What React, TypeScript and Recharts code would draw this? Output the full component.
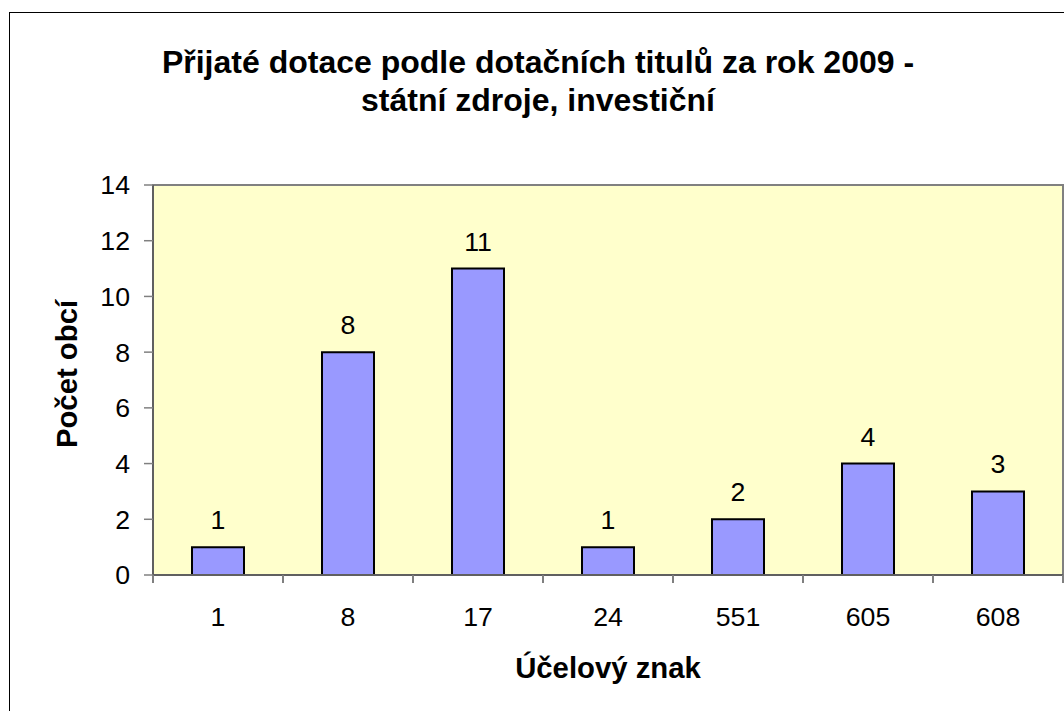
import { BarChart, Bar, XAxis, YAxis, CartesianGrid, ReferenceArea, LabelList } from 'recharts'

const codes = ['1', '8', '17', '24', '551', '605', '608']
const counts = [1, 8, 11, 1, 2, 4, 3]
const yTicks = [0, 2, 4, 6, 8, 10, 12, 14]

const titleLines = ['Přijaté dotace podle dotačních titulů za rok 2009 -', 'státní zdroje, investiční']
const xTitle = 'Účelový znak'
const yTitle = 'Počet obcí'

const data = codes.map((code, i) => ({ code, count: counts[i] }))

const font = '"Liberation Sans", Arial, sans-serif'
const tickFont = 26.7

function CodeTick(props: any) {
  const { x, y, payload, index } = props
  const off = payload.offset ?? 65
  return (
    <g>
      <line x1={x - off} x2={x - off} y1={y} y2={y + 8} stroke="#808080" strokeWidth={2} />
      {index === codes.length - 1 && (
        <line x1={x + off} x2={x + off} y1={y} y2={y + 8} stroke="#808080" strokeWidth={2} />
      )}
      <text x={x} y={y + 42} dy="0.35em" textAnchor="middle" fontSize={tickFont} fill="#000" fontFamily={font}>
        {payload.value}
      </text>
    </g>
  )
}

export default function App() {
  return (
    <div style={{ position: 'absolute', left: 0, top: 0, width: 1064, height: 711, overflow: 'hidden', background: '#fff', fontFamily: font }}>
      <div style={{ position: 'absolute', left: 9, top: 12, width: 1100, height: 800, border: '1px solid #000', boxSizing: 'border-box' }} />
      <div style={{ position: 'absolute', left: 9, width: 1058, top: 43, textAlign: 'center', fontWeight: 'bold', fontSize: 32, lineHeight: '38px', color: '#000' }}>
        {titleLines.map((t) => (
          <div key={t}>{t}</div>
        ))}
      </div>
      <BarChart
        width={1064}
        height={711}
        data={data}
        margin={{ top: 185, right: 1, bottom: 106, left: 93 }}
        barSize={52}
        style={{ position: 'absolute', left: 0, top: 0 }}
      >
        <CartesianGrid horizontal={false} vertical={false} fill="#FFFFCC" stroke="none" />
        <ReferenceArea y1={0} y2={14} fill="none" stroke="#808080" strokeWidth={2} ifOverflow="visible" />
        <XAxis
          dataKey="code"
          height={30}
          tickLine={false}
          tickSize={0}
          tickMargin={0}
          axisLine={{ stroke: '#606060', strokeWidth: 2 }}
          tick={<CodeTick />}
          interval={0}
        />
        <YAxis
          width={60}
          domain={[0, 14]}
          ticks={yTicks}
          interval={0}
          tickSize={9}
          tickMargin={14}
          tickLine={{ stroke: '#808080', strokeWidth: 1.5 }}
          axisLine={{ stroke: '#606060', strokeWidth: 2 }}
          tick={{ fontSize: tickFont, fill: '#000', fontFamily: font }}
        />
        <Bar dataKey="count" fill="#9999FF" stroke="#000" strokeWidth={2} isAnimationActive={false}>
          <LabelList dataKey="count" position="top" offset={18} fontSize={tickFont} fill="#000" fontFamily={font} />
        </Bar>
      </BarChart>
      <div style={{ position: 'absolute', left: 153, width: 910, top: 653, textAlign: 'center', fontWeight: 'bold', fontSize: 29.3, lineHeight: '30px', color: '#000' }}>
        {xTitle}
      </div>
      <div
        style={{
          position: 'absolute',
          left: 67 - 100,
          top: 374 - 15,
          width: 200,
          height: 30,
          lineHeight: '30px',
          textAlign: 'center',
          fontWeight: 'bold',
          fontSize: 29.3,
          color: '#000',
          transform: 'rotate(-90deg)',
        }}
      >
        {yTitle}
      </div>
    </div>
  )
}
